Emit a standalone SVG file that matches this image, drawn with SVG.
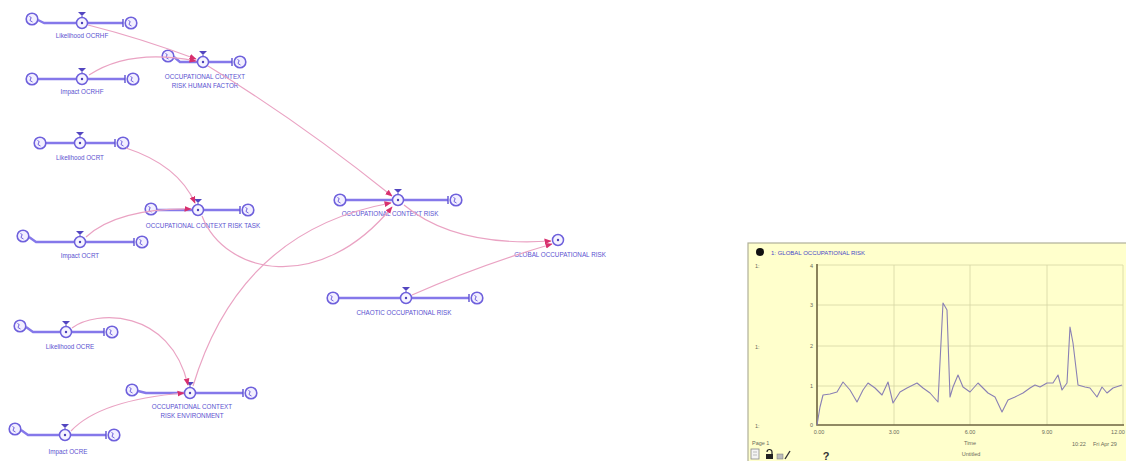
<svg xmlns="http://www.w3.org/2000/svg" xmlns:xlink="http://www.w3.org/1999/xlink" width="1126" height="461" viewBox="0 0 1126 461">
  <style>
    .pipe{fill:none;stroke:#8578ea;stroke-width:2.4;stroke-linejoin:round}
    .tick{fill:none;stroke:#5e52d2;stroke-width:1.4}
    .lbl{font-family:"Liberation Sans",Arial,sans-serif;font-size:6.3px;fill:#5a52d0;text-anchor:middle}
    .link{fill:none;stroke:#eaa3c3;stroke-width:1.2;marker-end:url(#ah)}
    .grid{stroke:#d6d6a4;stroke-width:0.8}
    .axis{stroke:#6e6440;stroke-width:1.6;fill:none}
    .ct{font-family:"Liberation Sans",Arial,sans-serif;font-size:5.5px;fill:#6a6a5a}
  </style>
  <defs>
    <marker id="ah" viewBox="0 0 10 10" refX="9" refY="5" markerWidth="6" markerHeight="6" orient="auto">
      <path d="M0,1 L10,5 L0,9 z" fill="#d8306e"/>
    </marker>
    <g id="cloud">
      <circle r="5.8" fill="#f2efff" stroke="#6e60dc" stroke-width="1.6"/>
      <path d="M-2.5,-2.5 q3,1 1,2.5 q-2,1.5 2,3" fill="none" stroke="#6e60dc" stroke-width="1"/>
    </g>
    <g id="valve">
      <path d="M-4,-11 h8 l-4,4 z" fill="#5346c0"/>
      <line x1="0" y1="-7" x2="0" y2="-5.5" stroke="#5346c0" stroke-width="1"/>
      <circle r="5.5" fill="#f6f4ff" stroke="#6e60dc" stroke-width="1.5"/>
      <circle r="1.2" fill="#4a3fb8"/>
    </g>
  </defs>

  <rect width="1126" height="461" fill="#ffffff"/>

  <!-- stock-and-flow structure -->
  <g id="likelihood-ocrhf">
    <path class="pipe" d="M38,20 L44,23 L123,23"/>
    <line class="tick" x1="123" y1="19" x2="123" y2="27"/>
    <use href="#cloud" x="32" y="19"/>
    <use href="#cloud" x="131" y="23"/>
    <use href="#valve" x="82" y="23"/>
    <text class="lbl" x="82" y="38">Likelihood OCRHF</text>
  </g>
  <g id="impact-ocrhf">
    <path class="pipe" d="M38,79 L125,79"/>
    <line class="tick" x1="125" y1="75" x2="125" y2="83"/>
    <use href="#cloud" x="32" y="79"/>
    <use href="#cloud" x="133" y="79"/>
    <use href="#valve" x="82" y="79"/>
    <text class="lbl" x="82" y="94">Impact OCRHF</text>
  </g>
  <g id="ocr-human-factor">
    <path class="pipe" d="M174,57 L180,62 L232,62"/>
    <line class="tick" x1="232" y1="58" x2="232" y2="66"/>
    <use href="#cloud" x="168" y="56"/>
    <use href="#cloud" x="240" y="62"/>
    <use href="#valve" x="203" y="62"/>
    <text class="lbl" x="205" y="79">OCCUPATIONAL CONTEXT</text>
    <text class="lbl" x="205" y="88">RISK HUMAN FACTOR</text>
  </g>
  <g id="likelihood-ocrt">
    <path class="pipe" d="M46,143 L115,143"/>
    <line class="tick" x1="115" y1="139" x2="115" y2="147"/>
    <use href="#cloud" x="40" y="143"/>
    <use href="#cloud" x="123" y="143"/>
    <use href="#valve" x="80" y="143"/>
    <text class="lbl" x="80" y="160">Likelihood OCRT</text>
  </g>
  <g id="ocr-task">
    <path class="pipe" d="M157,210 L240,210"/>
    <line class="tick" x1="240" y1="206" x2="240" y2="214"/>
    <use href="#cloud" x="151" y="209"/>
    <use href="#cloud" x="248" y="210"/>
    <use href="#valve" x="198" y="210"/>
    <text class="lbl" x="203" y="228">OCCUPATIONAL CONTEXT RISK TASK</text>
  </g>
  <g id="impact-ocrt">
    <path class="pipe" d="M29,237 L36,242 L134,242"/>
    <line class="tick" x1="134" y1="238" x2="134" y2="246"/>
    <use href="#cloud" x="23" y="236"/>
    <use href="#cloud" x="142" y="242"/>
    <use href="#valve" x="80" y="242"/>
    <text class="lbl" x="80" y="258">Impact OCRT</text>
  </g>
  <g id="likelihood-ocre">
    <path class="pipe" d="M26,327 L33,332 L104,332"/>
    <line class="tick" x1="104" y1="328" x2="104" y2="336"/>
    <use href="#cloud" x="20" y="326"/>
    <use href="#cloud" x="112" y="332"/>
    <use href="#valve" x="66" y="332"/>
    <text class="lbl" x="70" y="349">Likelihood OCRE</text>
  </g>
  <g id="ocr-environment">
    <path class="pipe" d="M138,391 L146,393 L243,393"/>
    <line class="tick" x1="243" y1="389" x2="243" y2="397"/>
    <use href="#cloud" x="132" y="390"/>
    <use href="#cloud" x="251" y="393"/>
    <use href="#valve" x="190" y="393"/>
    <text class="lbl" x="192" y="409">OCCUPATIONAL CONTEXT</text>
    <text class="lbl" x="192" y="418">RISK ENVIRONMENT</text>
  </g>
  <g id="impact-ocre">
    <path class="pipe" d="M21,430 L28,435 L106,435"/>
    <line class="tick" x1="106" y1="431" x2="106" y2="439"/>
    <use href="#cloud" x="15" y="429"/>
    <use href="#cloud" x="114" y="435"/>
    <use href="#valve" x="65" y="435"/>
    <text class="lbl" x="68" y="454">Impact OCRE</text>
  </g>
  <g id="occupational-context-risk">
    <path class="pipe" d="M346,200 L448,200"/>
    <line class="tick" x1="448" y1="196" x2="448" y2="204"/>
    <use href="#cloud" x="340" y="200"/>
    <use href="#cloud" x="456" y="200"/>
    <use href="#valve" x="398" y="200"/>
    <text class="lbl" x="390" y="216">OCCUPATIONAL CONTEXT RISK</text>
  </g>
  <g id="chaotic-occupational-risk">
    <path class="pipe" d="M339,298 L469,298"/>
    <line class="tick" x1="469" y1="294" x2="469" y2="302"/>
    <use href="#cloud" x="333" y="298"/>
    <use href="#cloud" x="477" y="298"/>
    <use href="#valve" x="406" y="298"/>
    <text class="lbl" x="404" y="315">CHAOTIC OCCUPATIONAL RISK</text>
  </g>
  <g id="global-occupational-risk">
    <circle cx="558" cy="240" r="5.5" fill="#f6f4ff" stroke="#6e60dc" stroke-width="1.5"/>
    <circle cx="558" cy="240" r="1.2" fill="#4a3fb8"/>
    <text class="lbl" x="560" y="257">GLOBAL OCCUPATIONAL RISK</text>
  </g>

  <!-- information links -->
  <g id="connectors">
    <path class="link" d="M88,25 Q140,38 196,59"/>
    <path class="link" d="M89,75 C115,58 150,52 196,61"/>
    <path class="link" d="M208,66 Q300,122 392,196"/>
    <path class="link" d="M126,148 Q178,165 195,203"/>
    <path class="link" d="M86,237 Q118,208 191,209"/>
    <path class="link" d="M202,216 C225,275 320,295 392,207"/>
    <path class="link" d="M72,328 C95,310 170,308 188,385"/>
    <path class="link" d="M71,431 Q100,400 184,393"/>
    <path class="link" d="M193,386 Q240,230 391,203"/>
    <path class="link" d="M404,205 C440,235 490,245 551,241"/>
    <path class="link" d="M412,295 Q480,265 552,244"/>
  </g>

  <!-- graph pad -->
  <g id="graph-panel">
    <rect x="748" y="243" width="380" height="220" fill="#ffffcc" stroke="#b0b098" stroke-width="1.2"/>
    <circle cx="760" cy="252" r="4" fill="#111"/>
    <text x="771" y="254.5" font-family="Liberation Sans,Arial,sans-serif" font-size="6" fill="#4848c8">1: GLOBAL OCCUPATIONAL RISK</text>
    <g>
      <line class="grid" x1="817" y1="265" x2="1123" y2="265"/>
      <line class="grid" x1="817" y1="305" x2="1123" y2="305"/>
      <line class="grid" x1="817" y1="346" x2="1123" y2="346"/>
      <line class="grid" x1="817" y1="386" x2="1123" y2="386"/>
      <line class="grid" x1="894" y1="265" x2="894" y2="425"/>
      <line class="grid" x1="970" y1="265" x2="970" y2="425"/>
      <line class="grid" x1="1047" y1="265" x2="1047" y2="425"/>
      <line class="grid" x1="1123" y1="265" x2="1123" y2="425"/>
    </g>
    <path class="axis" d="M817,264 L817,425 L1124,425"/>
    <g class="ct">
      <text x="755" y="268">1:</text>
      <text x="755" y="349">1:</text>
      <text x="755" y="428">1:</text>
      <text x="813" y="268" text-anchor="end">4</text>
      <text x="813" y="307" text-anchor="end">3</text>
      <text x="813" y="348" text-anchor="end">2</text>
      <text x="813" y="388" text-anchor="end">1</text>
      <text x="813" y="427" text-anchor="end">0</text>
      <text x="819" y="434" text-anchor="middle">0.00</text>
      <text x="894" y="434" text-anchor="middle">3.00</text>
      <text x="970" y="434" text-anchor="middle">6.00</text>
      <text x="1047" y="434" text-anchor="middle">9.00</text>
      <text x="1118" y="434" text-anchor="middle">12.00</text>
      <text x="752" y="445">Page 1</text>
      <text x="970" y="445" text-anchor="middle">Time</text>
      <text x="971" y="456" text-anchor="middle">Untitled</text>
      <text x="1072" y="446">10:22</text>
      <text x="1093" y="446">Fri Apr 29</text>
    </g>
    <polyline fill="none" stroke="#8a80b4" stroke-width="1.1" stroke-linejoin="round" points="817,425 820,407 823,395 830,394 837,392 843,382 850,390 857,402 863,390 868,383 875,388 882,395 888,382 893,403 900,392 907,388 917,383 923,388 930,393 938,402 943,303 947,310 950,397 953,387 958,375 963,387 970,392 978,383 983,388 988,393 995,397 1002,412 1008,400 1015,397 1023,393 1030,388 1035,385 1040,387 1047,383 1053,383 1058,375 1062,390 1067,383 1070,327 1073,343 1078,385 1085,387 1090,388 1097,397 1102,387 1107,393 1113,388 1122,385"/>
    <!-- toolbar -->
    <g id="toolbar">
      <rect x="751" y="449" width="8" height="10" fill="#f4f4f4" stroke="#888" stroke-width="0.8"/>
      <path d="M753,452 h4 M753,455 h4" stroke="#999" stroke-width="0.6"/>
      <path d="M767,452 a2.5,2.5 0 0 1 5,0 v2" fill="none" stroke="#222" stroke-width="1.2"/>
      <rect x="766" y="454" width="7" height="5" fill="#222"/>
      <rect x="777" y="454" width="6" height="5" fill="#bbb" stroke="#777" stroke-width="0.5"/>
      <path d="M785,459 l5,-8" stroke="#333" stroke-width="1.4"/>
      <text x="826" y="460" font-family="Liberation Sans,Arial,sans-serif" font-size="11" font-weight="bold" fill="#333" text-anchor="middle">?</text>
    </g>
  </g>
</svg>
